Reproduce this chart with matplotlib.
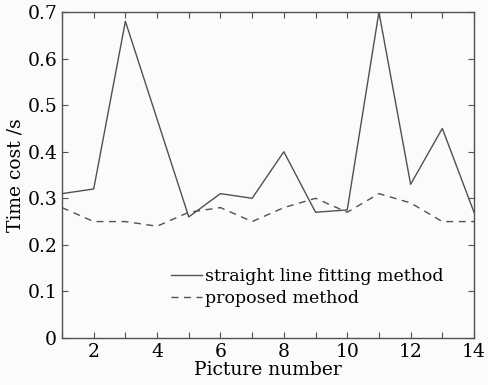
import matplotlib
matplotlib.use("Agg")
from matplotlib import pyplot as plt

pictures = list(range(1, 15))
line_fitting = [0.31, 0.32, 0.68, 0.47, 0.26, 0.31, 0.30, 0.40, 0.27, 0.275, 0.70, 0.33, 0.45, 0.27]
proposed = [0.28, 0.25, 0.25, 0.24, 0.27, 0.28, 0.25, 0.28, 0.30, 0.27, 0.31, 0.29, 0.25, 0.25]

plt.rcParams['font.family'] = ['DejaVu Serif']
plt.rcParams['mathtext.fontset'] = 'dejavuserif'

fig = plt.figure(figsize=(4.88, 3.85), dpi=100, facecolor='#fbfbfb')
ax = fig.add_axes([62 / 488, 47 / 385, 412 / 488, 326 / 385])
ax.set_facecolor('#fbfbfb')

c = '#555050'
ax.plot(pictures, line_fitting, color=c, lw=1.0, label='straight line fitting method')
ax.plot(pictures, proposed, color=c, lw=1.0, ls=(0, (5, 4)), label='proposed method')

ax.set_xlim(1, 14)
ax.set_ylim(0, 0.7)
ax.set_xticks([2, 4, 6, 8, 10, 12, 14])
ax.set_xticks(range(1, 15), minor=True)
ax.set_yticks([0, 0.1, 0.2, 0.3, 0.4, 0.5, 0.6, 0.7])
ax.set_yticklabels(['0', '0.1', '0.2', '0.3', '0.4', '0.5', '0.6', '0.7'])
ax.tick_params(which='both', direction='in', top=True, right=True, colors=c,
               labelcolor='black', labelsize=13.5, length=4, width=0.8)
for s in ax.spines.values():
    s.set_color(c)
    s.set_linewidth(1.0)

ax.set_xlabel('Picture number', fontsize=13.5, labelpad=0)
ax.set_ylabel('Time cost /s', fontsize=13.5, labelpad=2)

ax.legend(loc='lower left', bbox_to_anchor=(0.248, 0.075), frameon=False,
          fontsize=12.5, handlelength=1.8, handletextpad=0.15, labelspacing=0.25,
          borderaxespad=0)

fig.savefig('out.png', dpi=100, facecolor=fig.get_facecolor())
plt.close()
